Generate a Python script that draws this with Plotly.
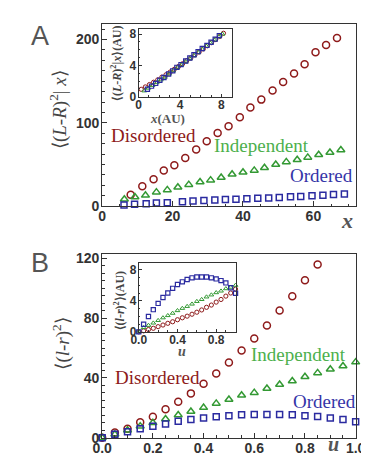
import plotly.graph_objects as go

# ---------------- data: panel A (main) ----------------
a_dis_x = [8.1, 11.4, 14.6, 17.5, 20.5, 23.6, 26.7, 29.7, 32.8, 35.9, 39.1, 42.1, 45.2, 48.4, 51.4, 54.5, 57.5, 60.6, 63.6, 66.7]
a_dis_y = [13.8, 24.0, 32.5, 43.0, 49.3, 57.8, 68.0, 78.0, 87.8, 96.0, 106.9, 118.6, 127.9, 138.8, 149.0, 159.1, 170.3, 184.8, 193.3, 201.9]
a_ind_x = [6.3, 9.3, 12.3, 15.4, 18.5, 21.5, 24.6, 27.8, 30.8, 33.8, 36.9, 40.0, 43.2, 46.1, 49.3, 52.3, 55.4, 58.4, 61.5, 64.7, 67.8]
a_ind_y = [8.4, 11.1, 13.1, 16.9, 19.6, 22.8, 25.9, 29.0, 31.3, 34.5, 38.3, 40.7, 43.0, 46.1, 50.0, 53.2, 55.8, 58.6, 61.7, 64.5, 67.5]
a_ord_x = [6.2, 9.2, 12.5, 15.4, 18.5, 22.8, 25.8, 28.9, 32.0, 35.0, 38.0, 41.1, 44.2, 47.3, 50.3, 53.5, 56.4, 59.6, 62.7, 65.7, 68.8]
a_ord_y = [1.5, 2.5, 3.0, 3.8, 4.3, 5.5, 6.3, 6.8, 7.5, 8.0, 8.5, 9.0, 9.6, 10.0, 10.5, 11.3, 11.8, 12.5, 13.2, 14.0, 14.8]

# ---------------- data: panel A (inset) ----------------
ia_dis_x = [0.25, 0.65, 1.05, 1.45, 1.85, 2.25, 2.65, 3.05, 3.45, 3.85, 4.25, 4.65, 5.05, 5.45, 5.85, 6.25, 6.65, 7.05, 7.45, 7.85, 8.2]
ia_dis_y = [0.95, 1.25, 1.55, 1.85, 2.15, 2.5, 2.8, 3.15, 3.5, 3.85, 4.2, 4.6, 4.95, 5.35, 5.7, 6.1, 6.5, 6.9, 7.3, 7.7, 8.1]
ia_ind_x = [0.55, 0.95, 1.35, 1.75, 2.15, 2.55, 2.95, 3.35, 3.75, 4.15, 4.55, 4.95, 5.35, 5.75, 6.15, 6.55, 6.95, 7.35, 7.75, 8.1]
ia_ind_y = [0.75, 1.1, 1.45, 1.8, 2.15, 2.5, 2.9, 3.3, 3.7, 4.05, 4.45, 4.85, 5.25, 5.65, 6.05, 6.45, 6.85, 7.25, 7.65, 8.0]
ia_ord_x = [0.85, 1.25, 1.65, 2.05, 2.45, 2.9, 3.3, 3.7, 4.1, 4.55, 4.95, 5.35, 5.75, 6.15, 6.6, 7.0, 7.4, 7.8]
ia_ord_y = [0.95, 1.35, 1.7, 2.1, 2.45, 2.9, 3.3, 3.75, 4.1, 4.55, 4.95, 5.35, 5.75, 6.15, 6.55, 6.95, 7.35, 7.8]

# ---------------- data: panel B (main) ----------------
u_vals = [0.0, 0.05, 0.1, 0.15, 0.2, 0.25, 0.3, 0.35, 0.4, 0.45, 0.5, 0.55, 0.6, 0.65, 0.7, 0.75, 0.8, 0.85, 0.9, 0.95, 1.0]
b_dis_y = [0.0, 3.5, 6.1, 10.4, 14.1, 19.1, 24.1, 29.7, 36.2, 43.0, 50.3, 58.4, 66.4, 75.1, 85.1, 94.6, 105.3, 115.9]
b_ind_y = [0.0, 2.4, 5.0, 7.8, 10.0, 12.6, 15.2, 17.6, 20.2, 23.0, 25.6, 28.4, 30.2, 33.0, 35.6, 38.0, 40.8, 43.4, 45.8, 48.0, 50.6]
b_ord_y = [0.0, 2.4, 4.1, 6.1, 7.8, 9.3, 11.1, 12.2, 13.2, 14.1, 14.8, 15.4, 15.6, 15.6, 15.6, 15.4, 14.8, 14.3, 13.2, 12.2, 10.8]

# ---------------- data: panel B (inset) ----------------
ib_dis_y = [0.0, 0.13, 0.3, 0.46, 0.67, 0.88, 1.1, 1.3, 1.56, 1.81, 2.02, 2.27, 2.53, 2.82, 3.16, 3.45, 3.83, 4.17, 4.6, 5.0, 5.5]
ib_ind_y = [0.0, 0.55, 0.84, 1.14, 1.47, 1.81, 2.1, 2.4, 2.74, 3.03, 3.28, 3.58, 3.92, 4.17, 4.5, 4.76, 5.05, 5.26, 5.56, 5.75, 6.0]
ib_ord_y = [0.0, 0.97, 1.98, 2.86, 3.66, 4.42, 5.01, 5.6, 6.1, 6.44, 6.74, 6.95, 7.07, 7.07, 7.07, 6.95, 6.82, 6.6, 6.3, 5.68, 4.97]

RED = "#8e1a1a"
GREEN = "#339933"
BLUE = "#2a2aa0"
RED_T = "#8e1a1a"
GREEN_T = "#4cb04c"
BLUE_T = "#3535a8"
AX = "#333333"

W, H = 369, 456
def fx(p):
    return p / W
def fy(p):
    return 1 - p / H

fig = go.Figure()

def add(x, y, sym, color, size, lw, xa, ya):
    fig.add_trace(go.Scatter(
        x=x, y=y, mode="markers", xaxis=xa, yaxis=ya, cliponaxis=False,
        marker=dict(symbol=sym, size=size, color=color,
                    line=dict(color=color, width=lw)),
        showlegend=False, hoverinfo="skip"))

# main A
add(a_dis_x, a_dis_y, "circle-open", RED, 7, 1.5, "x", "y")
add(a_ind_x, a_ind_y, "triangle-up-open", GREEN, 7, 1.5, "x", "y")
add(a_ord_x, a_ord_y, "square-open", BLUE, 6, 1.5, "x", "y")
# inset A
add(ia_dis_x, ia_dis_y, "circle-open", RED, 4.2, 1.0, "x2", "y2")
add(ia_ind_x, ia_ind_y, "triangle-up-open", GREEN, 4.2, 1.0, "x2", "y2")
add(ia_ord_x, ia_ord_y, "square-open", BLUE, 4.2, 1.2, "x2", "y2")
# main B
add(u_vals[:len(b_dis_y)], b_dis_y, "circle-open", RED, 7, 1.5, "x3", "y3")
add(u_vals, b_ind_y, "triangle-up-open", GREEN, 7, 1.5, "x3", "y3")
add(u_vals, b_ord_y, "square-open", BLUE, 6, 1.5, "x3", "y3")
# inset B
add(u_vals, ib_dis_y, "circle-open", RED, 4.2, 1.0, "x4", "y4")
add(u_vals, ib_ind_y, "triangle-up-open", GREEN, 4.2, 1.0, "x4", "y4")
add(u_vals, ib_ord_y, "square-open", BLUE, 4.2, 1.2, "x4", "y4")

tick_main = dict(family="Liberation Sans, Arial", size=14, color=AX, weight="bold")
tick_in = dict(family="Liberation Sans, Arial", size=12, color=AX, weight="bold")

def axis(domain, rng, dtick, minor_dtick, font, anchor, ticklen=5, fmt=None, standoff=0):
    d = dict(domain=domain, range=rng, anchor=anchor, showgrid=False, zeroline=False,
             showline=True, linecolor=AX, linewidth=1, mirror=True,
             ticks="inside", ticklen=ticklen, tickcolor=AX, tickwidth=1,
             tickfont=font, dtick=dtick, tick0=0, ticklabelstandoff=standoff,
             minor=dict(ticks="inside", ticklen=ticklen * 0.55, dtick=minor_dtick, tick0=0,
                        tickcolor=AX, tickwidth=0.8, showgrid=False),
             fixedrange=True)
    if fmt:
        d["tickformat"] = fmt
    return d

fig.update_layout(
    width=W, height=H, margin=dict(l=0, r=0, t=0, b=0),
    paper_bgcolor="white", plot_bgcolor="white",
    xaxis=axis([fx(89), fx(357)], [0, 72], 20, 5, tick_main, "y", standoff=-3),
    yaxis=axis([fy(199.5), fy(12)], [0, 219], 100, 12.5, tick_main, "x", standoff=-1),
    xaxis2=axis([fx(127.5), fx(226)], [0, 9], 4, 1, tick_in, "y2", ticklen=3, standoff=-3),
    yaxis2=axis([fy(87), fy(17)], [0, 8.7], 4, 1, tick_in, "x2", ticklen=3, standoff=-1),
    xaxis3=axis([fx(89), fx(357)], [0, 1.0], 0.2, 0.05, tick_main, "y3", fmt=".1f", standoff=-3),
    yaxis3=axis([fy(437.3), fy(249)], [0, 122.6], 40, 5, tick_main, "x3", standoff=-1),
    xaxis4=axis([fx(127.7), fx(230)], [0, 1.0], 0.4, 0.1, tick_in, "y4", ticklen=3, fmt=".1f", standoff=-3),
    yaxis4=axis([fy(328.5), fy(257.5)], [0, 8.9], 4, 1, tick_in, "x4", ticklen=3, standoff=-1),
)

SERIF = "Liberation Serif, Times New Roman, serif"
SANS = "Liberation Sans, Arial, sans-serif"

def ann(text, x, y, size, color, family=SERIF, angle=0, weight="normal"):
    fig.add_annotation(text=text, x=fx(x), y=fy(y), xref="paper", yref="paper",
                       showarrow=False, textangle=angle, xanchor="center", yanchor="middle",
                       font=dict(family=family, size=size, color=color, weight=weight))

# panel letters
ann("A", 23, 25, 27, "#555555", family=SANS)
ann("B", 23, 258, 27, "#555555", family=SANS)

# main y titles
ann("⟨(<i>L</i>-<i>R</i>)<sup>2</sup>| <i>x</i>⟩", 43, 100, 19, "#444444", angle=-90)
ann("⟨(<i>l</i>-<i>r</i>)<sup>2</sup>⟩", 45, 341, 19, "#444444", angle=-90)

# main x titles
ann("<i>x</i>", 348, 214, 22, "#555555", weight="bold")
ann("<i>u</i>", 334, 444, 20, "#555555", weight="bold")

# inset titles
ann("⟨(<i>L</i>-<i>R</i>)<sup>2</sup>|<i>x</i>⟩(AU)", 104, 52, 12, "#444444", angle=-90, weight="bold")
ann("<i>x</i>(AU)", 158, 109, 13, "#555555", weight="bold")
ann("⟨(<i>l</i>-<i>r</i>)<sup>2</sup>⟩(AU)", 107, 296, 12, "#444444", angle=-90, weight="bold")
ann("<i>u</i>", 173, 349, 14, "#555555", weight="bold")

# series labels
ann("Disordered", 143, 127, 19, RED_T)
ann("Independent", 257, 137, 19, GREEN_T)
ann("Ordered", 321, 168, 19, BLUE_T)
ann("Disordered", 147, 375, 19, RED_T)
ann("Independent", 297, 352, 19, GREEN_T)
ann("Ordered", 324, 400, 19, BLUE_T)

fig.write_html("out.html")
